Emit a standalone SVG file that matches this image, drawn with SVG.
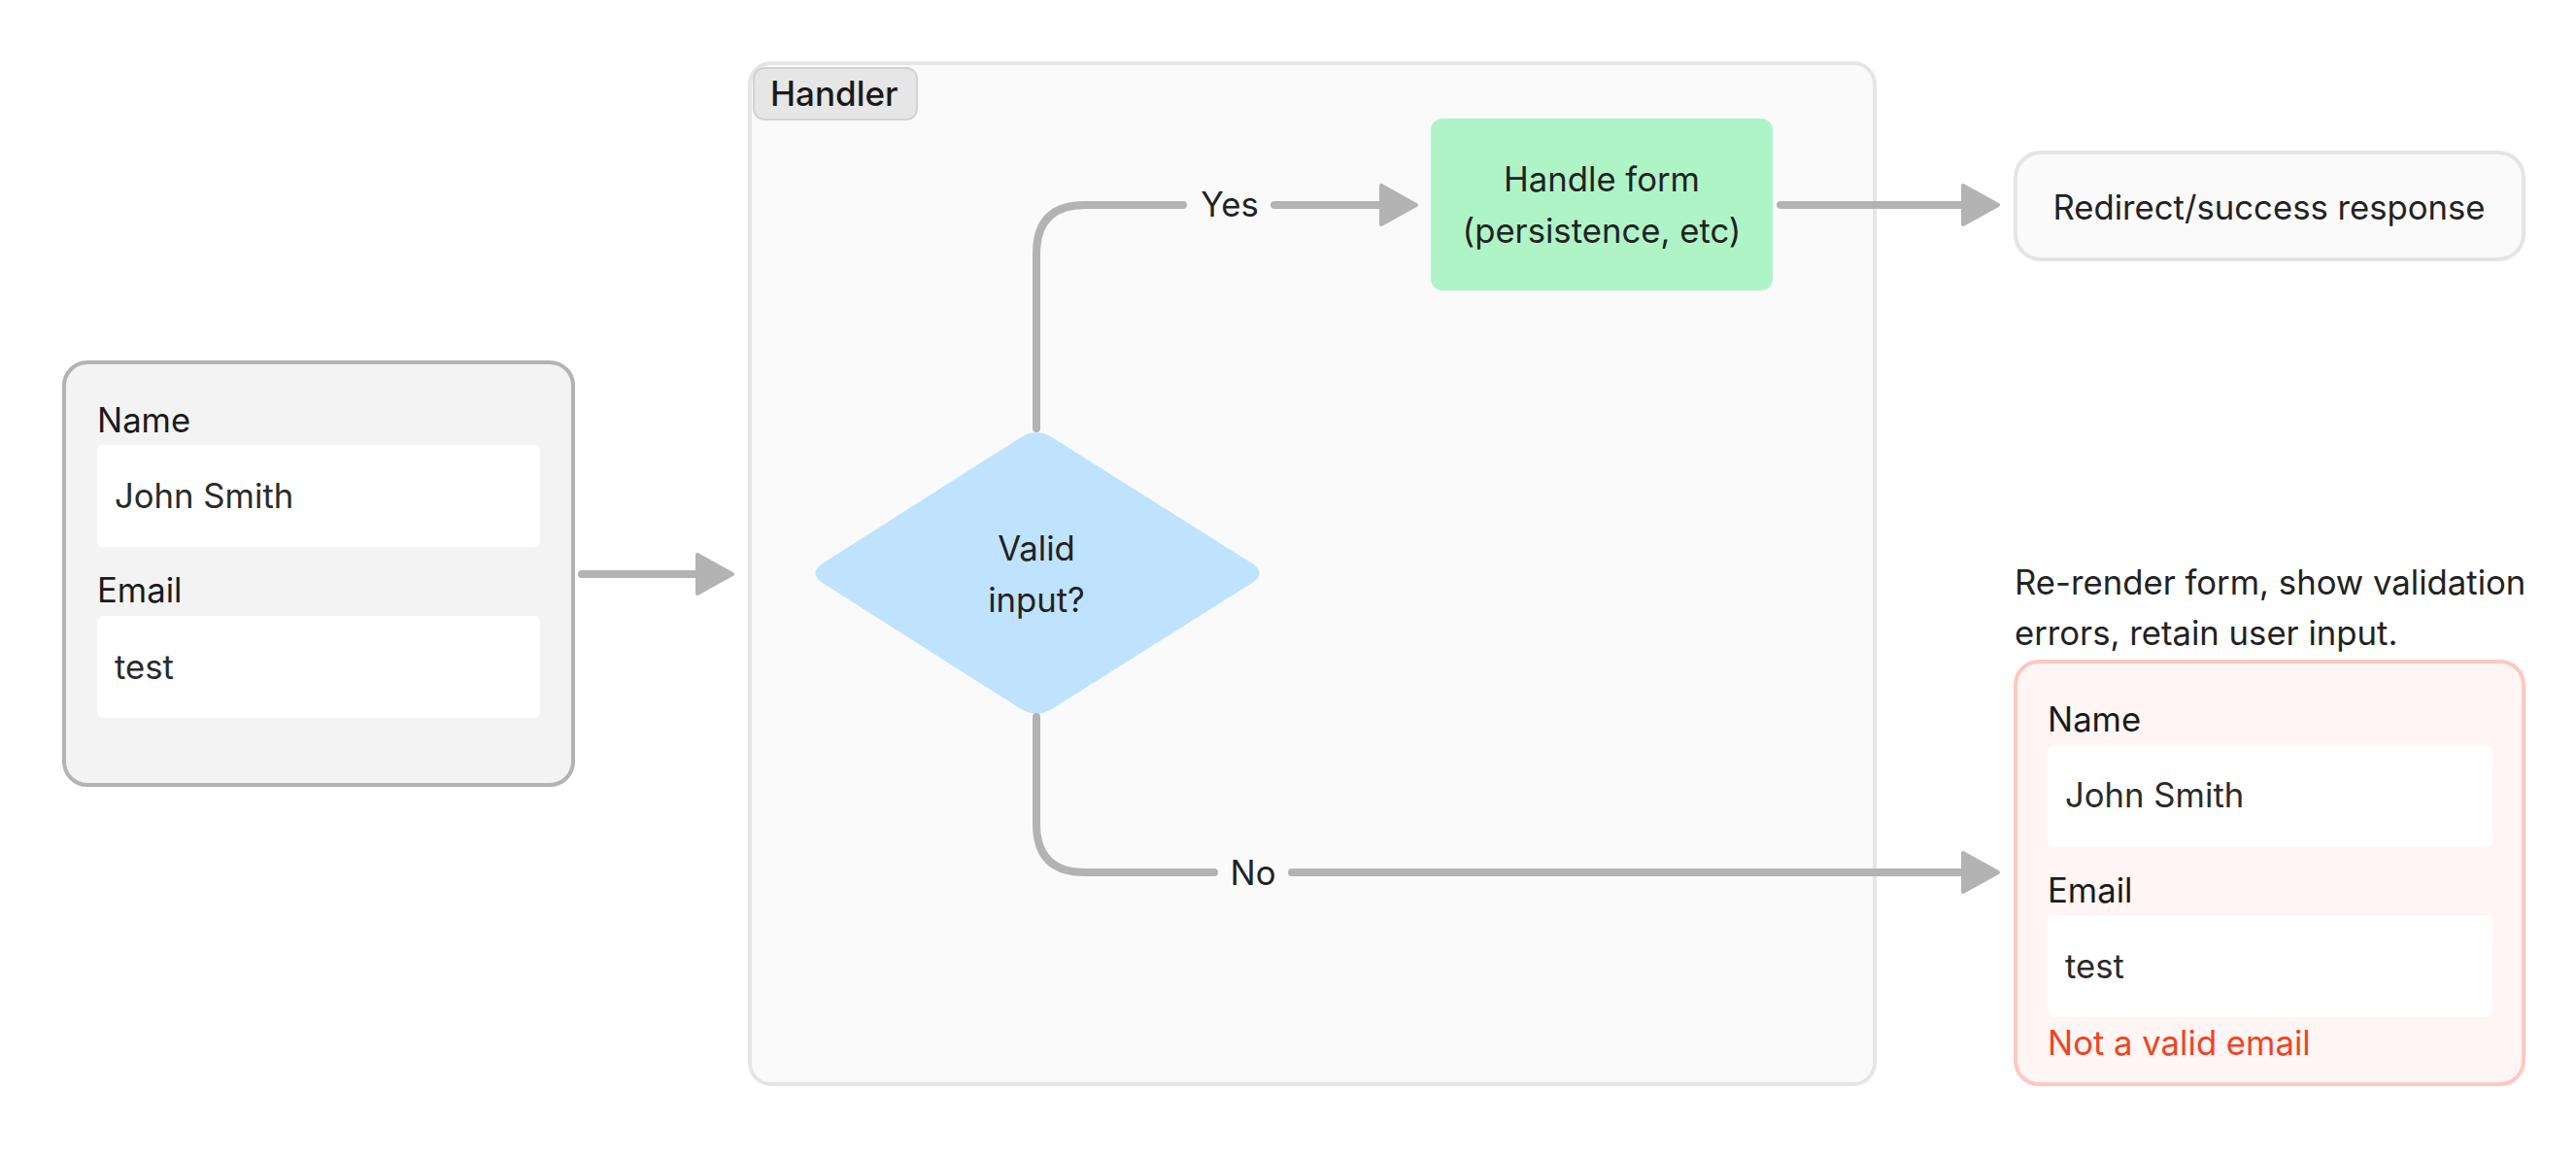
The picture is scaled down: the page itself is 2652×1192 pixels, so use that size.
<svg xmlns="http://www.w3.org/2000/svg" width="2652" height="1192" viewBox="0 0 2652 1192">
<defs>
<style>
text{font-family:Inter,"Noto Sans","Liberation Sans",sans-serif;font-size:34.7px;fill:#222}
.lbl{fill:#1a1a1a}
.val{fill:#2a2a2a}
.field{fill:#ffffff}
.conn{fill:none;stroke:#b3b3b3;stroke-width:8;stroke-linecap:round;stroke-linejoin:round}
.mid{text-anchor:middle}
</style>
<marker id="arrow" markerUnits="userSpaceOnUse" viewBox="0 0 42 46" markerWidth="42" markerHeight="46" refX="3" refY="23" orient="auto">
<path d="M3 3 L39 23 L3 43 Z" fill="#b3b3b3" stroke="#b3b3b3" stroke-width="4" stroke-linejoin="round"/>
</marker>
</defs>
<rect width="2652" height="1192" fill="#ffffff"/>

<g id="handler">
<rect x="772" y="65" width="1158" height="1051" rx="22" fill="#fafafa" stroke="#e5e5e5" stroke-width="4"/>
<rect x="776" y="70" width="168" height="53" rx="11" fill="#e6e6e6" stroke="#d2d2d2" stroke-width="2"/>
<text x="793" y="109" style="font-weight:500;font-size:35px" class="lbl">Handler</text>
</g>

<g id="input-form">
<rect x="66" y="373" width="524" height="435" rx="24" fill="#f3f3f3" stroke="#b3b3b3" stroke-width="4"/>
<text x="100" y="445" class="lbl">Name</text>
<rect x="100" y="458" width="456" height="105" rx="6" class="field"/>
<text x="118" y="523" class="val">John Smith</text>
<text x="100" y="620" class="lbl">Email</text>
<rect x="100" y="634" width="456" height="105" rx="6" class="field"/>
<text x="118" y="699" class="val">test</text>
</g>

<g id="valid-input">
<path d="M847.9 579.3 L1050.1 450.7 Q1067 440 1083.9 450.7 L1288.1 579.3 Q1305 590 1288.1 600.7 L1083.9 729.3 Q1067 740 1050.1 729.3 L847.9 600.7 Q831 590 847.9 579.3 Z" fill="#bfe3fe"/>
<text x="1067" y="577" class="mid">Valid</text>
<text x="1067" y="630" class="mid">input?</text>
</g>

<g id="handle-form">
<rect x="1473" y="122" width="352" height="177" rx="12" fill="#aff4c7"/>
<text x="1649" y="197" class="mid">Handle form</text>
<text x="1649" y="250" class="mid">(persistence, etc)</text>
</g>

<g id="redirect">
<rect x="2075" y="157" width="523" height="110" rx="26" fill="#fafafa" stroke="#e5e5e5" stroke-width="4"/>
<text x="2336" y="226" class="mid">Redirect/success response</text>
</g>

<g id="rerender-note">
<text x="2074" y="612">Re-render form, show validation</text>
<text x="2074" y="664">errors, retain user input.</text>
</g>

<g id="error-form">
<rect x="2075" y="681" width="523" height="435" rx="24" fill="#fff5f4" stroke="#fcc8c2" stroke-width="4"/>
<text x="2108" y="753" class="lbl">Name</text>
<rect x="2108" y="767" width="458" height="105" rx="6" class="field"/>
<text x="2126" y="831" class="val">John Smith</text>
<text x="2108" y="929" class="lbl">Email</text>
<rect x="2108" y="942" width="458" height="105" rx="6" class="field"/>
<text x="2126" y="1007" class="val">test</text>
<text x="2108" y="1086" style="fill:#f0441f">Not a valid email</text>
</g>

<g id="connectors">
<path class="conn" d="M599 591 L718 591" marker-end="url(#arrow)"/>
<path class="conn" d="M1067 441 L1067 261 Q1067 211 1117 211 L1218 211 M1312 211 L1422 211" marker-end="url(#arrow)"/>
<text x="1266" y="223" class="mid">Yes</text>
<path class="conn" d="M1833 211 L2021 211" marker-end="url(#arrow)"/>
<path class="conn" d="M1067 738 L1067 848 Q1067 898 1117 898 L1250 898 M1330 898 L2021 898" marker-end="url(#arrow)"/>
<text x="1290" y="911" class="mid">No</text>
</g>
</svg>
